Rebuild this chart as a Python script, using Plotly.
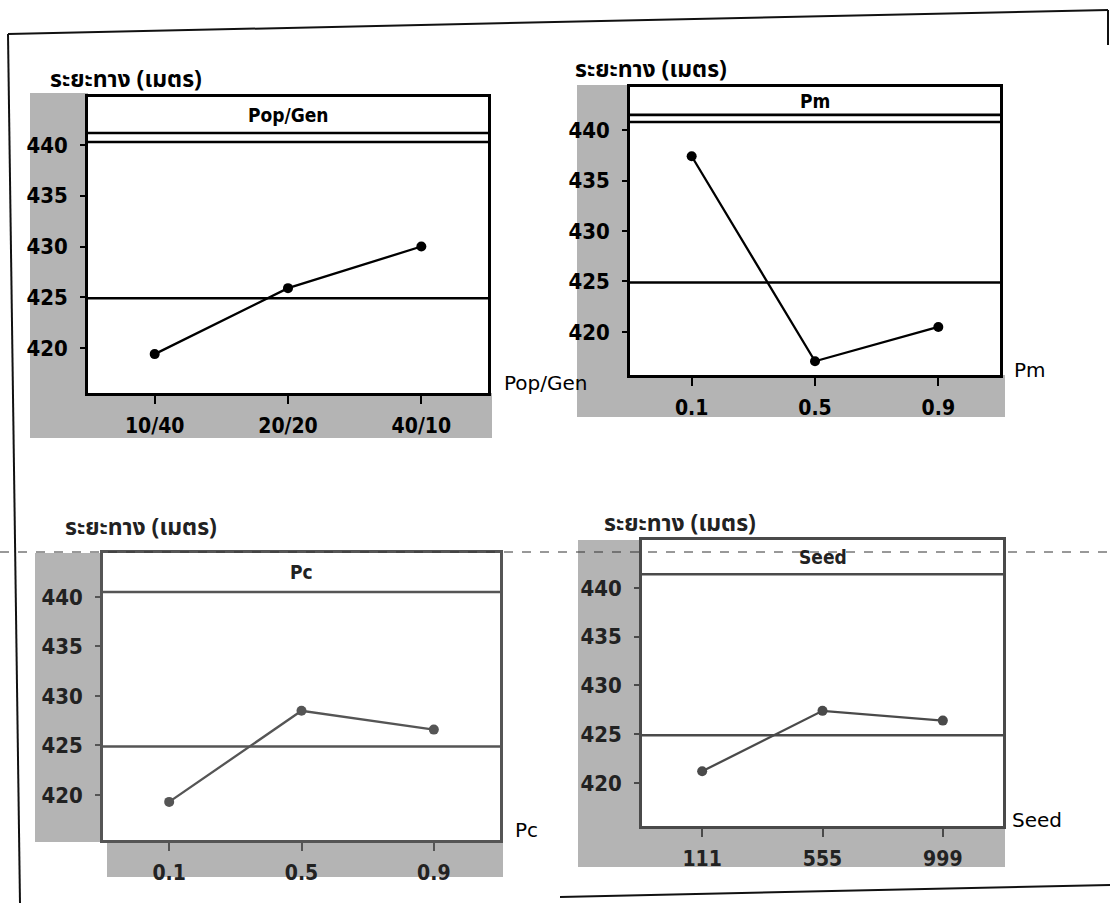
import plotly.graph_objects as go

# ---------------- data ----------------
pop_gen_levels = ["10/40", "20/20", "40/10"]
pop_gen_means = [419.4, 425.9, 430.0]

pm_levels = ["0.1", "0.5", "0.9"]
pm_means = [437.4, 417.1, 420.5]

pc_levels = ["0.1", "0.5", "0.9"]
pc_means = [419.3, 428.5, 426.6]

seed_levels = ["111", "555", "999"]
seed_means = [421.2, 427.4, 426.4]

y_ticks = [420, 425, 430, 435, 440]
grand_mean = 424.9
y_title = "ระยะทาง (เมตร)"

W, H = 1110, 903


def px(x):
    return x / W


def py(y):
    return 1 - y / H


TICK_FONT = "Liberation Sans Narrow, DejaVu Sans Condensed, Arial Narrow, sans-serif"
THAI_FONT = "Noto Sans Thai, Loma, Garuda, Tahoma, DejaVu Sans, sans-serif"
NAME_FONT = "DejaVu Sans, Verdana, sans-serif"

# panel layout (pixel boxes) -- style only
panels = [
    dict(name="Pop/Gen", levels=pop_gen_levels, means=pop_gen_means,
         x0=88, x1=488, ytop=97, ybot=393, yr=[415.57, 444.73],
         hdr=[441.18, 440.3], hdr_y=115, col="#000000", tcol="#000000",
         gray=[(30, 93, 88, 438), (88, 393, 492, 438)],
         title_xy=(48, 80), name_xy=(502, 383)),
    dict(name="Pm", levels=pm_levels, means=pm_means,
         x0=630, x1=1000, ytop=87, ybot=375, yr=[415.74, 444.26],
         hdr=[441.5, 440.8], hdr_y=101, col="#000000", tcol="#000000",
         gray=[(577, 85, 630, 417), (630, 375, 1005, 417)],
         title_xy=(573, 70), name_xy=(1012, 370)),
    dict(name="Pc", levels=pc_levels, means=pc_means,
         x0=103, x1=500, ytop=553, ybot=840, yr=[415.45, 444.44],
         hdr=[440.5], hdr_y=572, col="#555555", tcol="#222222",
         gray=[(35, 553, 103, 842), (107, 842, 503, 877)],
         title_xy=(63, 528), name_xy=(513, 830)),
    dict(name="Seed", levels=seed_levels, means=seed_means,
         x0=642, x1=1003, ytop=540, ybot=826, yr=[415.59, 444.92],
         hdr=[441.4], hdr_y=557, col="#4a4a4a", tcol="#222222",
         gray=[(578, 540, 642, 867), (642, 826, 1005, 867)],
         title_xy=(602, 524), name_xy=(1010, 820)),
]

fig = go.Figure()
shapes = []
annotations = []

# gray texture strips behind tick labels (drawn first, below everything)
for p in panels:
    for (gx0, gy0, gx1, gy1) in p["gray"]:
        shapes.append(dict(type="rect", xref="paper", yref="paper",
                           x0=px(gx0), x1=px(gx1), y0=py(gy1), y1=py(gy0),
                           fillcolor="#b4b4b4", line=dict(width=0), layer="below"))

for i, p in enumerate(panels):
    n = "" if i == 0 else str(i + 1)
    xa, ya = "x" + n, "y" + n
    fig.add_trace(go.Scatter(
        x=p["levels"], y=p["means"], xaxis=xa, yaxis=ya,
        mode="lines+markers",
        line=dict(color=p["col"], width=2.3),
        marker=dict(color=p["col"], size=10, symbol="circle"),
        showlegend=False, hoverinfo="x+y"))

    fig.update_layout(**{
        "xaxis" + n: dict(
            domain=[px(p["x0"]), px(p["x1"])], anchor=ya,
            type="category", categoryorder="array", categoryarray=p["levels"],
            range=[-0.5, 2.5], showgrid=False, zeroline=False,
            showline=True, linecolor=p["col"], linewidth=2.6, mirror=True,
            ticks="outside", ticklen=8, tickwidth=2, tickcolor=p["col"],
            tickfont=dict(family=TICK_FONT, size=21, color=p["tcol"], weight="bold"),
            ticklabelstandoff=4,
        ),
        "yaxis" + n: dict(
            domain=[py(p["ybot"]), py(p["ytop"])], anchor=xa,
            range=p["yr"], showgrid=False, zeroline=False,
            showline=True, linecolor=p["col"], linewidth=2.6, mirror=True,
            tickvals=y_ticks, ticktext=[str(t) for t in y_ticks],
            ticks="outside", ticklen=5, tickwidth=2, tickcolor=p["col"],
            tickfont=dict(family=TICK_FONT, size=22, color=p["tcol"], weight="bold"),
            ticklabelstandoff=8,
        ),
    })

    # header strip lines and grand-mean reference line
    for hv in p["hdr"]:
        shapes.append(dict(type="line", xref=xa + " domain", yref=ya,
                           x0=0, x1=1, y0=hv, y1=hv,
                           line=dict(color=p["col"], width=2.6)))
    shapes.append(dict(type="line", xref=xa + " domain", yref=ya,
                       x0=0, x1=1, y0=grand_mean, y1=grand_mean,
                       line=dict(color=p["col"], width=2.6)))

    # header title
    annotations.append(dict(text=p["name"], xref="paper", yref="paper",
                            x=px((p["x0"] + p["x1"]) / 2), y=py(p["hdr_y"]),
                            xanchor="center", yanchor="middle", showarrow=False,
                            font=dict(family=TICK_FONT, size=19, color=p["tcol"], weight="bold")))
    # y axis title
    tx, ty = p["title_xy"]
    annotations.append(dict(text=y_title, xref="paper", yref="paper",
                            x=px(tx), y=py(ty), xanchor="left", yanchor="middle",
                            showarrow=False,
                            font=dict(family=THAI_FONT, size=23, color=p["tcol"], weight="bold")))
    # factor name at bottom right
    nx, ny = p["name_xy"]
    annotations.append(dict(text=p["name"], xref="paper", yref="paper",
                            x=px(nx), y=py(ny), xanchor="left", yanchor="middle",
                            showarrow=False,
                            font=dict(family=NAME_FONT, size=20, color="#000000")))

# page frame lines from the scanned page
page_lines = [
    (8, 34, 1108, 10),
    (8, 34, 20, 903),
    (1108, 10, 1108, 45),
    (560, 897, 1110, 885),
]
for (ax, ay, bx, by) in page_lines:
    shapes.append(dict(type="line", xref="paper", yref="paper",
                       x0=px(ax), y0=py(ay), x1=px(bx), y1=py(by),
                       line=dict(color="#111111", width=2)))
# dashed fold line
shapes.append(dict(type="line", xref="paper", yref="paper",
                   x0=0, x1=1, y0=py(552), y1=py(552),
                   line=dict(color="#333333", width=1, dash="dash")))

fig.update_layout(
    width=W, height=H,
    margin=dict(l=0, r=0, t=0, b=0),
    paper_bgcolor="white", plot_bgcolor="white",
    shapes=shapes, annotations=annotations,
    showlegend=False,
)

fig.write_html("out.html", config={"displayModeBar": False},
               post_script="document.body.style.margin='0';")
